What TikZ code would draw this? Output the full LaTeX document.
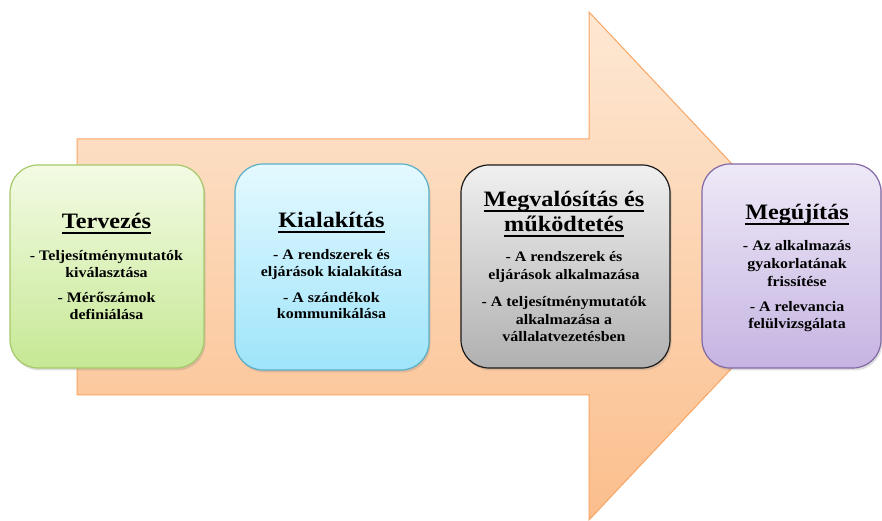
\documentclass[tikz,border=0pt]{standalone}
\usepackage{fontspec}
\setmainfont{Liberation Serif}
\newfontfamily\boxfont[FakeStretch=1.1]{Liberation Serif}
\usetikzlibrary{shadows}
\definecolor{arrowtop}{RGB}{253,232,212}
\definecolor{arrowbot}{RGB}{251,190,140}
\definecolor{arrowline}{RGB}{249,165,100}
\definecolor{gtop}{RGB}{243,251,228}
\definecolor{gbot}{RGB}{198,232,148}
\definecolor{gline}{RGB}{165,200,105}
\definecolor{btop}{RGB}{228,249,255}
\definecolor{bbot}{RGB}{158,228,250}
\definecolor{bline}{RGB}{90,175,200}
\definecolor{ktop}{RGB}{240,240,240}
\definecolor{kbot}{RGB}{176,176,176}
\definecolor{kline}{RGB}{25,25,25}
\definecolor{ptop}{RGB}{238,233,247}
\definecolor{pbot}{RGB}{198,180,226}
\definecolor{pline}{RGB}{130,104,165}
\tikzset{
  stagebox/.style={draw, line width=1.2pt, rounded corners=28pt,
    drop shadow={opacity=0.25, shadow xshift=1.5pt, shadow yshift=-2.5pt}},
  bodyline/.style={anchor=base, inner sep=0pt, font=\boxfont\bfseries\fontsize{14.5}{17}\selectfont},
  titleline/.style={anchor=base, inner sep=0pt, font=\boxfont\bfseries\fontsize{22}{26}\selectfont},
}
\newsavebox{\ttlbox}
\newcommand{\stitle}[1]{\sbox{\ttlbox}{#1}\smash{\rlap{\rule[-4.6pt]{\wd\ttlbox}{1.6pt}}}\usebox{\ttlbox}}
\begin{document}
\begin{tikzpicture}[x=1pt,y=1pt]
\useasboundingbox (0,0) rectangle (882,521);
% arrow (image y -> 521-y)
\path[draw=arrowline, line width=1pt, top color=arrowtop, bottom color=arrowbot]
  (77,382) -- (589,382) -- (589,509) -- (828,255) -- (589,1) -- (589,126) -- (77,126) -- cycle;
% boxes
\path[stagebox, draw=gline, top color=gtop, bottom color=gbot] (10,356) rectangle (204,153);
\path[stagebox, draw=bline, top color=btop, bottom color=bbot] (235,357) rectangle (429,151);
\path[stagebox, draw=kline, top color=ktop, bottom color=kbot] (461,356) rectangle (670,153);
\path[stagebox, draw=pline, top color=ptop, bottom color=pbot] (702,357) rectangle (881,153);
% Tervezés (baselines 229 | 261 278 303 320)
\node[titleline] (g0) at (106.5,292) {\stitle{Tervezés}};
\node[bodyline] (g1) at (106.5,260) {- Teljesítménymutatók};
\node[bodyline] (g2) at (106.5,243) {kiválasztása};
\node[bodyline] (g3) at (106.5,218) {- Mérőszámok};
\node[bodyline] (g4) at (106.5,201) {definiálása};
% Kialakítás (228 | 260 277 303 319)
\node[titleline] (b0) at (331.5,293) {\stitle{Kialakítás}};
\node[bodyline] (b1) at (331.5,261) {- A rendszerek és};
\node[bodyline] (b2) at (331.5,244) {eljárások kialakítása};
\node[bodyline] (b3) at (331.5,218) {- A szándékok};
\node[bodyline] (b4) at (331.5,202) {kommunikálása};
% Megvalósítás (207 232 | 262 280 307 325 342)
\node[titleline] (k0) at (564,314) {\stitle{Megvalósítás és}};
\node[titleline] (k0b) at (564,289) {\stitle{működtetés}};
\node[bodyline] (k1) at (564,259) {- A rendszerek és};
\node[bodyline] (k2) at (564,241) {eljárások alkalmazása};
\node[bodyline] (k3) at (564,214) {- A teljesítménymutatók};
\node[bodyline] (k4) at (564,196) {alkalmazása a};
\node[bodyline] (k5) at (564,179) {vállalatvezetésben};
% Megújítás (220 | 251 269 287 312 329)
\node[titleline] (p0) at (797,301) {\stitle{Megújítás}};
\node[bodyline] (p1) at (797,270) {- Az alkalmazás};
\node[bodyline] (p2) at (797,252) {gyakorlatának};
\node[bodyline] (p3) at (797,234) {frissítése};
\node[bodyline] (p4) at (797,209) {- A relevancia};
\node[bodyline] (p5) at (797,192) {felülvizsgálata};
\end{tikzpicture}
\end{document}
